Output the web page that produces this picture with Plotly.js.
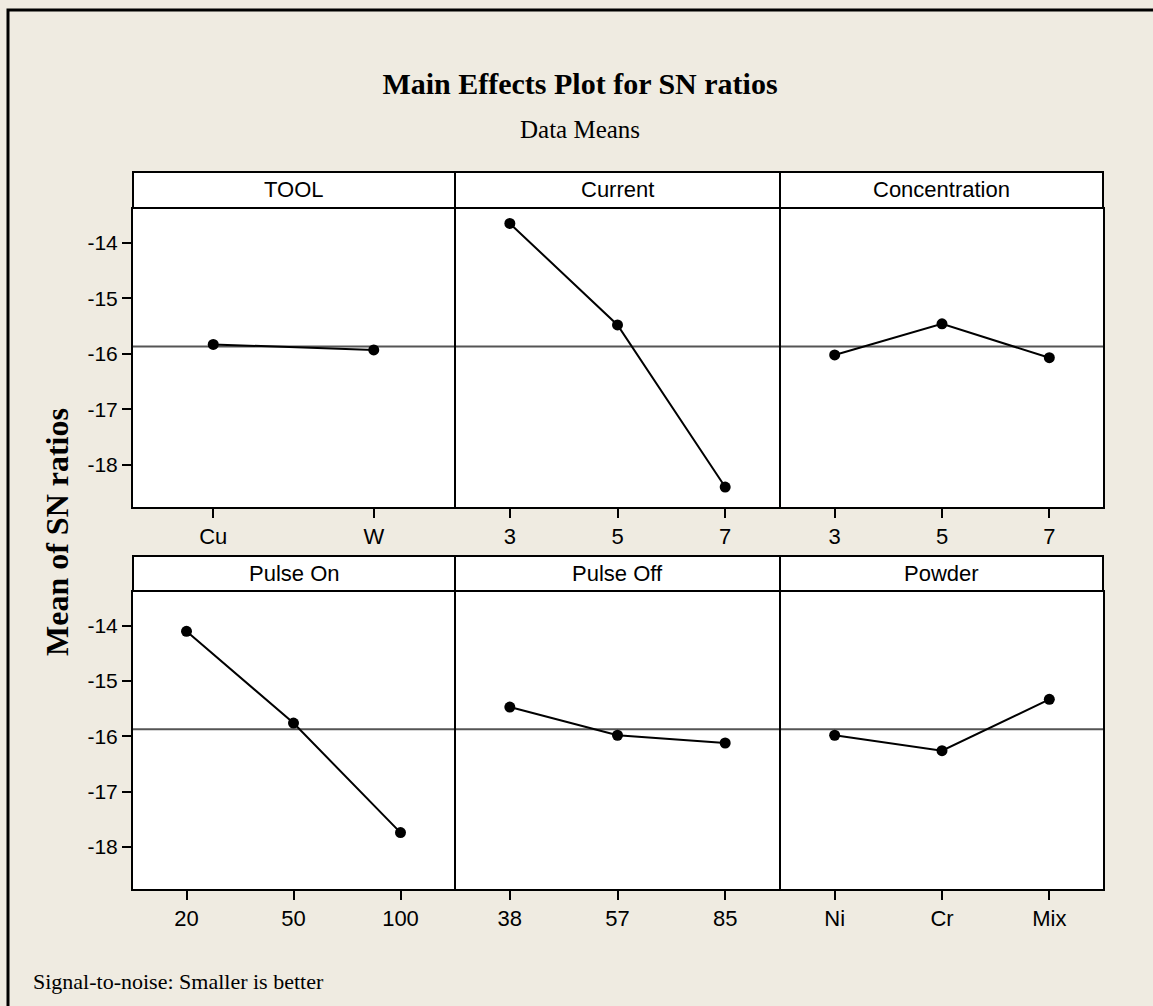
<!DOCTYPE html>
<html>
<head>
<meta charset="utf-8">
<script src="https://cdn.plot.ly/plotly-3.0.1.min.js"></script>
<style>
  html, body { margin: 0; padding: 0; background: #EFEBE1; }
  #chart { width: 1153px; height: 1006px; }
</style>
</head>
<body>
<div id="chart"></div>
<script>
// Factor levels and mean S/N ratio (dB) at each level
const toolLevels = ['Cu', 'W'];
const toolSN = [-15.83, -15.93];

const currentLevels = ['3', '5', '7'];
const currentSN = [-13.65, -15.48, -18.40];

const concentrationLevels = ['3', '5', '7'];
const concentrationSN = [-16.02, -15.46, -16.07];

const pulseOnLevels = ['20', '50', '100'];
const pulseOnSN = [-14.10, -15.76, -17.74];

const pulseOffLevels = ['38', '57', '85'];
const pulseOffSN = [-15.47, -15.98, -16.12];

const powderLevels = ['Ni', 'Cr', 'Mix'];
const powderSN = [-15.98, -16.26, -15.33];

const factorNames = ['TOOL', 'Current', 'Concentration', 'Pulse On', 'Pulse Off', 'Powder'];
const grandMean = -15.87;
const yTicks = [-14, -15, -16, -17, -18];
const yTickText = ['-14', '-15', '-16', '-17', '-18'];

// ---- layout helpers (pixel -> paper fraction) ----
const W = 1153, H = 1006;
const fx = p => p / W;
const fy = p => 1 - p / H;

// column edges; inner edges are pulled in by 1px so the 2px frame lines of
// neighbouring panels land on the same pixels
const cols = [[133, 454], [456, 779], [781, 1103]];
const headCols = [[133, 455], [455, 780], [780, 1103]];
const rows = [
  { head: [172, 208], plot: [209, 507] },
  { head: [556, 591], plot: [592, 889] }
];

const panels = [
  { levels: toolLevels, values: toolSN },
  { levels: currentLevels, values: currentSN },
  { levels: concentrationLevels, values: concentrationSN },
  { levels: pulseOnLevels, values: pulseOnSN },
  { levels: pulseOffLevels, values: pulseOffSN },
  { levels: powderLevels, values: powderSN }
];

const sans = '"Liberation Sans", Arial, sans-serif';
const serif = '"Liberation Serif", "Times New Roman", serif';

const traces = [];
const shapes = [];
const annotations = [];
const layout = {
  width: W,
  height: H,
  margin: { l: 0, r: 0, t: 0, b: 0 },
  paper_bgcolor: '#EFEBE1',
  plot_bgcolor: '#FFFFFF',
  showlegend: false,
  title: {
    text: '<b>Main Effects Plot for SN ratios</b>',
    font: { family: serif, size: 30, color: '#000' },
    x: 580 / W, xanchor: 'center',
    y: fy(83), yanchor: 'middle',
    xref: 'paper', yref: 'container'
  }
};

panels.forEach((p, i) => {
  const k = i + 1;
  const r = rows[Math.floor(i / 3)];
  const c = cols[i % 3];
  const hc = headCols[i % 3];
  const xa = 'xaxis' + (k === 1 ? '' : k);
  const ya = 'yaxis' + (k === 1 ? '' : k);
  const xid = 'x' + (k === 1 ? '' : k);
  const yid = 'y' + (k === 1 ? '' : k);
  const firstCol = (i % 3) === 0;

  traces.push({
    type: 'scatter',
    mode: 'lines+markers',
    x: p.levels,
    y: p.values,
    xaxis: xid,
    yaxis: yid,
    line: { color: '#000', width: 2 },
    marker: { color: '#000', size: 11 },
    hoverinfo: 'x+y'
  });

  layout[xa] = {
    domain: [fx(c[0]), fx(c[1])],
    anchor: yid,
    type: 'category',
    categoryorder: 'array',
    categoryarray: p.levels,
    range: [-0.5, p.levels.length - 0.5],
    showline: true, mirror: true, linecolor: '#000', linewidth: 2,
    showgrid: false, zeroline: false,
    ticks: 'outside', ticklen: 9, tickwidth: 2, tickcolor: '#000',
    tickfont: { family: sans, size: 22, color: '#000' },
    fixedrange: true
  };

  layout[ya] = {
    domain: [fy(r.plot[1]), fy(r.plot[0])],
    anchor: xid,
    range: [-18.76, -13.39],
    tickmode: 'array',
    tickvals: yTicks,
    ticktext: yTickText,
    showline: true, mirror: true, linecolor: '#000', linewidth: 2,
    showgrid: false, zeroline: false,
    ticks: firstCol ? 'outside' : '',
    ticklen: 9, tickwidth: 2, tickcolor: '#000',
    showticklabels: firstCol,
    tickfont: { family: sans, size: 21, color: '#000' },
    fixedrange: true
  };

  // overall mean reference line
  shapes.push({
    type: 'line', layer: 'below',
    xref: xid + ' domain', yref: yid,
    x0: 0, x1: 1, y0: grandMean, y1: grandMean,
    line: { color: '#555', width: 2 }
  });

  // factor header strip
  shapes.push({
    type: 'rect', xref: 'paper', yref: 'paper',
    x0: fx(hc[0]), x1: fx(hc[1]), y0: fy(r.head[1]), y1: fy(r.head[0]),
    fillcolor: '#FFFFFF', line: { color: '#000', width: 2 }
  });
  annotations.push({
    xref: 'paper', yref: 'paper',
    x: fx((hc[0] + hc[1]) / 2), y: fy((r.head[0] + r.head[1]) / 2),
    xanchor: 'center', yanchor: 'middle',
    text: factorNames[i], showarrow: false,
    font: { family: sans, size: 22, color: '#000' }
  });
});

// outer frame (left and top edges visible)
shapes.push({
  type: 'rect', xref: 'paper', yref: 'paper',
  x0: fx(8), x1: fx(1170), y0: fy(1030), y1: fy(10),
  line: { color: '#000', width: 3 }, fillcolor: 'rgba(0,0,0,0)'
});

annotations.push({
  xref: 'paper', yref: 'paper', x: 580 / W, y: fy(130),
  xanchor: 'center', yanchor: 'middle', showarrow: false,
  text: 'Data Means',
  font: { family: serif, size: 25, color: '#000' }
});
annotations.push({
  xref: 'paper', yref: 'paper', x: fx(57), y: fy(532),
  xanchor: 'center', yanchor: 'middle', showarrow: false,
  textangle: -90,
  text: '<b>Mean of SN ratios</b>',
  font: { family: serif, size: 32, color: '#000' }
});
annotations.push({
  xref: 'paper', yref: 'paper', x: fx(31), y: fy(981),
  xanchor: 'left', yanchor: 'middle', showarrow: false,
  text: 'Signal-to-noise: Smaller is better',
  font: { family: serif, size: 22, color: '#000' }
});

layout.shapes = shapes;
layout.annotations = annotations;

Plotly.newPlot('chart', traces, layout, { displayModeBar: false, staticPlot: true });
</script>
</body>
</html>
